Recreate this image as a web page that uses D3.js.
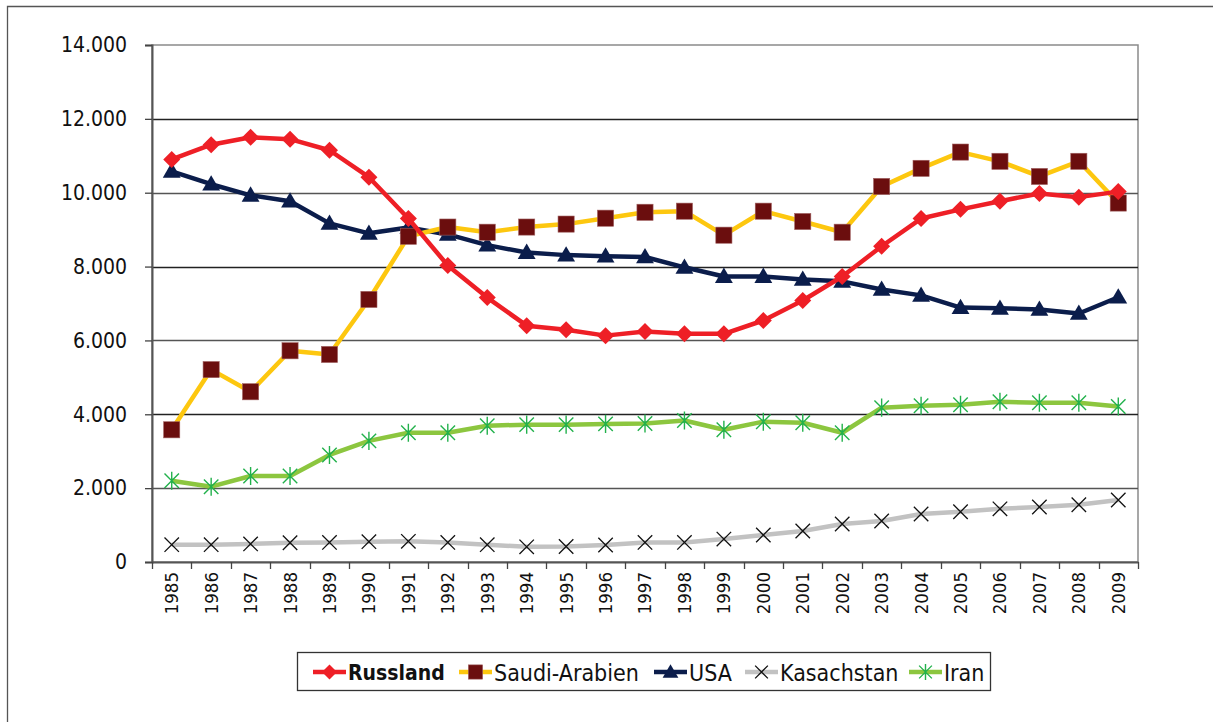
<!DOCTYPE html>
<html>
<head>
<meta charset="utf-8">
<script src="https://cdn.jsdelivr.net/npm/d3@7"></script>
<style>
  body { margin: 0; background: #fff; }
  svg text { font-family: "DejaVu Sans Condensed", "Liberation Sans Narrow", sans-serif; }
</style>
</head>
<body>
<div id="chart"></div>
<script>
const years = ["1985","1986","1987","1988","1989","1990","1991","1992","1993","1994","1995","1996","1997","1998","1999","2000","2001","2002","2003","2004","2005","2006","2007","2008","2009"];
const russland = [10900,11300,11500,11450,11150,10420,9300,8030,7160,6400,6290,6130,6240,6180,6180,6540,7080,7730,8550,9300,9550,9770,9980,9880,10030];
const saudiArabien = [3580,5210,4610,5720,5620,7110,8820,9070,8930,9070,9150,9310,9470,9500,8850,9500,9220,8930,10170,10660,11100,10850,10440,10850,9720];
const usa = [10580,10230,9930,9770,9170,8900,9060,8870,8580,8380,8310,8280,8260,7980,7730,7730,7650,7600,7380,7220,6890,6870,6840,6730,7170];
const kasachstan = [470,470,490,520,530,550,560,530,470,410,420,460,530,530,620,730,840,1030,1110,1300,1360,1440,1490,1550,1680];
const iran = [2200,2040,2330,2330,2900,3280,3500,3500,3690,3720,3720,3740,3750,3830,3580,3800,3770,3500,4180,4230,4260,4340,4310,4310,4210];
const yTicks = [0,2000,4000,6000,8000,10000,12000,14000];

const series = [
  { name: "Russland", values: russland, line: "#ee1f26", marker: "diamond", fill: "#ee1f26", bold: true },
  { name: "Saudi-Arabien", values: saudiArabien, line: "#fdc70f", marker: "square", fill: "#6b0e0e" },
  { name: "USA", values: usa, line: "#0b1d4b", marker: "triangle", fill: "#0b1d4b" },
  { name: "Kasachstan", values: kasachstan, line: "#c2c2c2", marker: "x", fill: "#111" },
  { name: "Iran", values: iran, line: "#8cc63f", marker: "star", fill: "#22b14c" }
];

const W = 1213, H = 722;
const margin = { top: 45, right: 75, bottom: 160, left: 152 };
const width = W - margin.left - margin.right;
const height = H - margin.top - margin.bottom;

const svg = d3.select("#chart").append("svg")
  .attr("width", W).attr("height", H);

// outer frame
svg.append("path")
  .attr("d", `M7.5,${H} V6.5 H${W}`)
  .attr("fill", "none").attr("stroke", "#555").attr("stroke-width", 1.3);

const g = svg.append("g").attr("transform", `translate(${margin.left},${margin.top})`);

const x = d3.scaleBand().domain(years).range([0, width]);
const y = d3.scaleLinear().domain([0, 14000]).range([height, 0]);

// plot area border
g.append("rect")
  .attr("x", 0).attr("y", 0).attr("width", width).attr("height", height)
  .attr("fill", "none").attr("stroke", "#8a8a8a").attr("stroke-width", 1.5);

// gridlines
g.append("g").selectAll("line")
  .data(yTicks.filter(d => d > 0 && d < 14000))
  .enter().append("line")
  .attr("x1", 0).attr("x2", width)
  .attr("y1", d => Math.round(y(d)) + 0.5).attr("y2", d => Math.round(y(d)) + 0.5)
  .attr("stroke", (d, i) => i % 2 ? "#222" : "#555").attr("stroke-width", 1.4);

// y axis
const fmt = d => d === 0 ? "0" : d3.format(",")(d).replace(/,/g, ".");
const yAxis = g.append("g")
  .call(d3.axisLeft(y).tickValues(yTicks).tickFormat(fmt).tickSize(7).tickPadding(18));
yAxis.select(".domain").attr("stroke", "#555").attr("stroke-width", 2);
yAxis.selectAll(".tick line").attr("stroke", "#444").attr("stroke-width", 1.3);
yAxis.selectAll("text").attr("font-size", 21).attr("fill", "#111");

// x axis
const xAxis = g.append("g")
  .attr("transform", `translate(0,${height})`)
  .call(d3.axisBottom(x).tickSize(0).tickPadding(0));
xAxis.select(".domain").attr("stroke", "#555").attr("stroke-width", 2);
xAxis.selectAll(".tick text")
  .attr("font-size", 18.5).attr("fill", "#111")
  .attr("transform", "rotate(-90)")
  .attr("text-anchor", "end")
  .attr("dy", "0.35em")
  .attr("x", -10).attr("y", 0);
xAxis.append("g").selectAll("line")
  .data(d3.range(years.length + 1))
  .enter().append("line")
  .attr("x1", i => Math.round(i * x.step()) + 0.5)
  .attr("x2", i => Math.round(i * x.step()) + 0.5)
  .attr("y1", 0).attr("y2", 7)
  .attr("stroke", "#444").attr("stroke-width", 1.3);

function drawMarker(sel, s, size) {
  if (s.marker === "diamond") {
    sel.append("path").attr("d", `M0,${-size} L${size},0 L0,${size} L${-size},0 Z`).attr("fill", s.fill);
  } else if (s.marker === "square") {
    const h = size * 0.95;
    sel.append("rect").attr("x", -h).attr("y", -h).attr("width", 2 * h).attr("height", 2 * h)
      .attr("fill", s.fill).attr("stroke", "#a06060").attr("stroke-width", 0.6);
  } else if (s.marker === "triangle") {
    sel.append("path").attr("d", `M0,${-size * 1.05} L${size * 1.05},${size * 0.75} L${-size * 1.05},${size * 0.75} Z`).attr("fill", s.fill);
  } else if (s.marker === "x") {
    const h = size * 0.85;
    sel.append("path").attr("d", `M${-h},${-h} L${h},${h} M${h},${-h} L${-h},${h}`)
      .attr("stroke", s.fill).attr("stroke-width", 1.3).attr("fill", "none");
  } else if (s.marker === "star") {
    const h = size * 0.85;
    sel.append("path").attr("d", `M${-h},${-h} L${h},${h} M${h},${-h} L${-h},${h} M0,${-h * 1.25} L0,${h * 1.25}`)
      .attr("stroke", s.fill).attr("stroke-width", 1.4).attr("fill", "none");
  }
}

const line = d3.line()
  .x((d, i) => x(years[i]) + x.bandwidth() / 2)
  .y(d => y(d));

// draw order: grey, green, navy, yellow, red (red on top)
const order = ["Kasachstan", "Iran", "USA", "Saudi-Arabien", "Russland"];
order.forEach(name => {
  const s = series.find(d => d.name === name);
  g.append("path")
    .datum(s.values)
    .attr("fill", "none")
    .attr("stroke", s.line)
    .attr("stroke-width", 4.5)
    .attr("stroke-linejoin", "round")
    .attr("d", line);
  g.append("g").selectAll("g")
    .data(s.values)
    .enter().append("g")
    .attr("transform", (d, i) => `translate(${x(years[i]) + x.bandwidth() / 2},${y(d)})`)
    .each(function() { drawMarker(d3.select(this), s, 8.5); });
});

// legend
const legend = svg.append("g").attr("transform", "translate(297,652)");
legend.append("rect")
  .attr("x", 0.5).attr("y", 0.5).attr("width", 693).attr("height", 38)
  .attr("fill", "#fff").attr("stroke", "#333").attr("stroke-width", 1.3);
const legendX = [16, 162, 357, 448, 612];
series.forEach((s, i) => {
  const item = legend.append("g").attr("transform", `translate(${legendX[i]},20)`);
  item.append("line").attr("x1", 0).attr("x2", 33).attr("y1", 0).attr("y2", 0)
    .attr("stroke", s.line).attr("stroke-width", 4.5);
  const m = item.append("g").attr("transform", "translate(16.5,0)");
  drawMarker(m, s, 7.5);
  item.append("text")
    .attr("x", 35).attr("y", 1).attr("dy", "0.35em")
    .attr("font-size", s.bold ? 21 : 23)
    .attr("font-weight", s.bold ? "bold" : "normal")
    .attr("fill", "#111")
    .text(s.name);
});
</script>
</body>
</html>
